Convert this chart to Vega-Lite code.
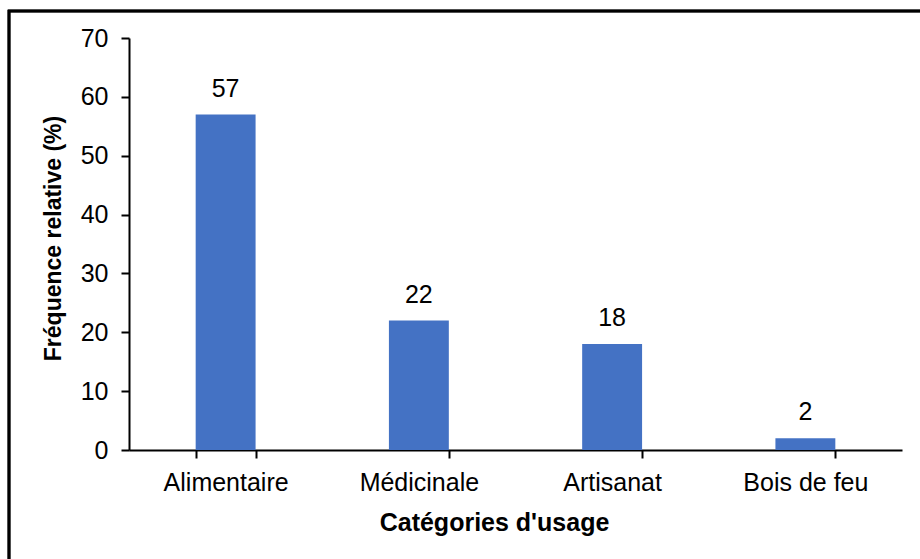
{
  "$schema": "https://vega.github.io/schema/vega-lite/v6.json",
  "autosize": "none",
  "width": 773,
  "height": 412,
  "padding": {"left": 129, "top": 38, "right": 18, "bottom": 109},
  "background": "white",
  "config": {
    "view": {"stroke": null},
    "font": "Liberation Sans",
    "axis": {
      "labelFont": "Liberation Sans",
      "titleFont": "Liberation Sans",
      "labelColor": "#000000",
      "titleColor": "#000000",
      "domainColor": "#000000",
      "tickColor": "#000000",
      "grid": false
    }
  },
  "data": {
    "values": [
      {"categorie": "Alimentaire", "frequence": 57},
      {"categorie": "Médicinale", "frequence": 22},
      {"categorie": "Artisanat", "frequence": 18},
      {"categorie": "Bois de feu", "frequence": 2}
    ]
  },
  "layer": [
    {
      "mark": {"type": "rect", "fill": null, "stroke": "#000000", "strokeWidth": 2.5},
      "encoding": {
        "x": {"value": -120},
        "x2": {"value": 800},
        "y": {"value": -27},
        "y2": {"value": 540}
      }
    },
    {
      "mark": {"type": "bar", "color": "#4472C4"},
      "encoding": {
        "x": {
          "field": "categorie",
          "type": "nominal",
          "sort": null,
          "scale": {"paddingInner": 0.69, "paddingOuter": 0.345},
          "axis": {
            "title": "Catégories d'usage",
            "labelAngle": 0,
            "labelFontSize": 25,
            "titleFontSize": 25,
            "titleFontWeight": "bold",
            "titleX": 365,
            "tickBand": "extent",
            "tickSize": 8,
            "tickWidth": 2,
            "domainWidth": 2,
            "labelPadding": 12,
            "titlePadding": 15
          }
        },
        "y": {
          "field": "frequence",
          "type": "quantitative",
          "scale": {"domain": [0, 70]},
          "axis": {
            "title": "Fréquence relative (%)",
            "values": [0, 10, 20, 30, 40, 50, 60, 70],
            "labelFontSize": 25,
            "titleFontSize": 23,
            "titleFontWeight": "bold",
            "titleY": 200,
            "tickSize": 8,
            "tickWidth": 2,
            "domainWidth": 2,
            "labelPadding": 13,
            "titlePadding": 15
          }
        }
      }
    },
    {
      "mark": {"type": "text", "baseline": "alphabetic", "dy": -18, "fontSize": 25, "font": "Liberation Sans", "color": "#000000"},
      "encoding": {
        "x": {"field": "categorie", "type": "nominal", "sort": null},
        "y": {"field": "frequence", "type": "quantitative"},
        "text": {"field": "frequence", "type": "quantitative", "format": ".0f"}
      }
    }
  ]
}
